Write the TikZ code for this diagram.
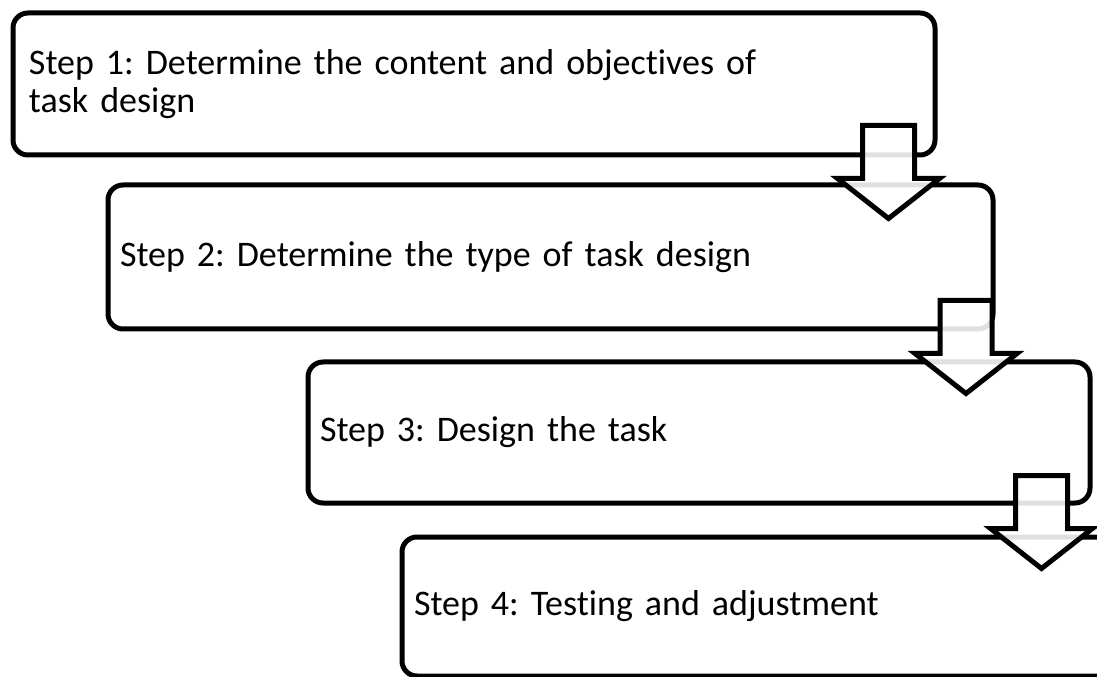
\documentclass[tikz,border=0pt]{standalone}
\usepackage{fontspec}
\setmainfont{Carlito}[Ligatures=NoCommon]
\frenchspacing
\usetikzlibrary{positioning, calc}
\tikzstyle{stepbox} = [rectangle, rounded corners=0.375cm, draw=black, line width=0.125cm, inner xsep=0.3cm, align=left, font=\fontsize{25.6pt}{27pt}\selectfont]
\tikzstyle{blockarrow} = [draw=black, line width=0.125cm, fill=white, fill opacity=0.88, miter limit=4]
\newcommand{\downarrowfrom}[1]{\draw [blockarrow] (#1) ++(-0.65,0) -- ++(1.3,0) -- ++(0,-1.325) -- ++(0.625,0) -- ++(-1.275,-1.0) -- ++(-1.275,1.0) -- ++(0.625,0) -- cycle;}

\begin{document}
\begin{tikzpicture}
\useasboundingbox (0,0) rectangle (27.425,-16.925);
\clip (0,0) rectangle (27.425,-16.925);
\node (s1) [stepbox, anchor=north west, minimum width=23.05cm, minimum height=3.55cm, text width=22.25cm, inner xsep=0.4cm] at (0.2625,-0.2625) {Step 1: Determine the content and objectives of\\task design};
\node (s2) [stepbox, below right=0.625cm and 2.375cm of s1.south west, minimum width=22.125cm, minimum height=3.6cm, text width=21.525cm] {Step 2: Determine the type of task design};
\node (s3) [stepbox, below right=0.7cm and 5cm of s2.south west, minimum width=19.55cm, minimum height=3.525cm, text width=18.95cm] {Step 3: Design the task};
\node (s4) [stepbox, below right=0.725cm and 2.35cm of s3.south west, minimum width=19cm, minimum height=3.475cm, text width=18.4cm] {Step 4: Testing and adjustment};

\coordinate (a1) at ($(s1.south east)+(-1.225,0.8)$);
\coordinate (a2) at ($(s2.south east)+(-0.7375,0.775)$);
\coordinate (a3) at ($(s3.south east)+(-1.275,0.75)$);
\downarrowfrom{a1}
\downarrowfrom{a2}
\downarrowfrom{a3}
\end{tikzpicture}
\end{document}
